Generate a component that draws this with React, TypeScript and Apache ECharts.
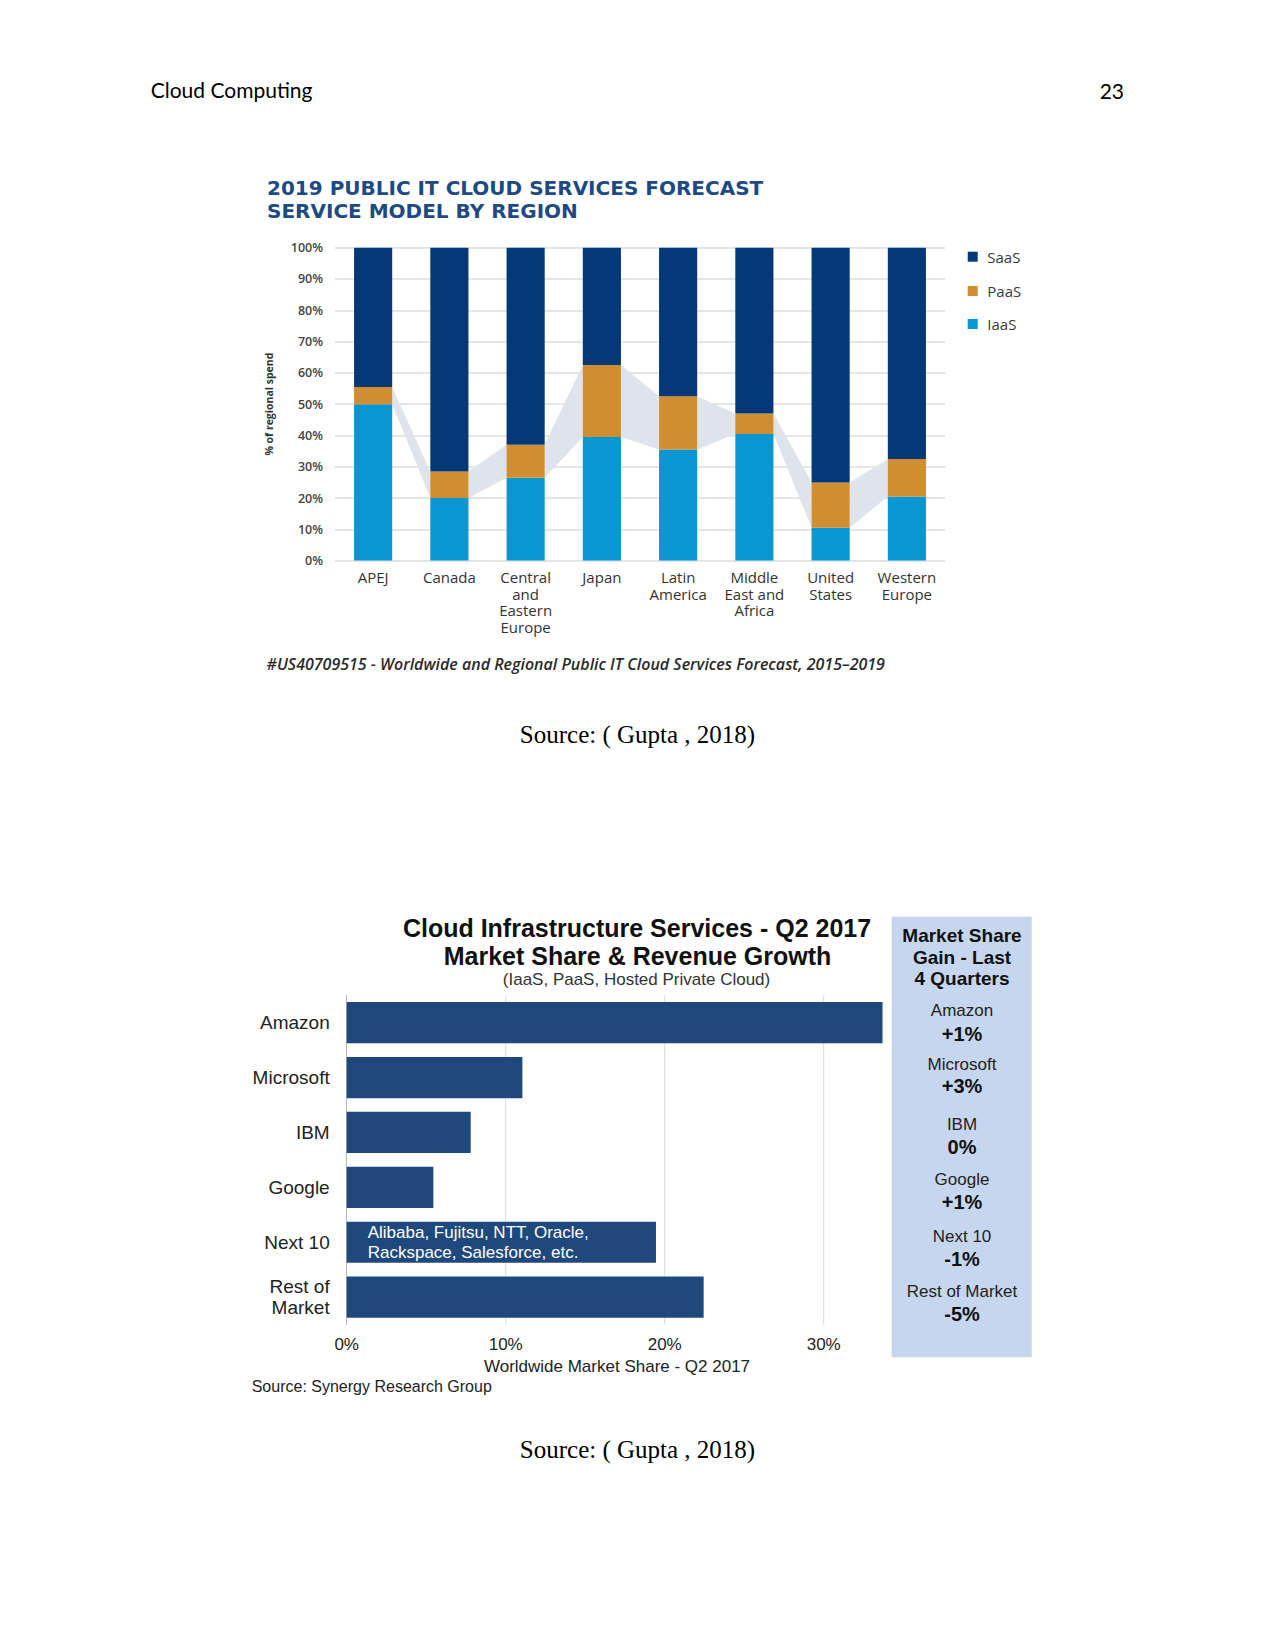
import React, { useEffect, useRef } from "react";
import * as echarts from "echarts";

// ---------- Chart 1 data ----------
const regions = [
  "APEJ",
  "Canada",
  "Central\nand\nEastern\nEurope",
  "Japan",
  "Latin\nAmerica",
  "Middle\nEast and\nAfrica",
  "United\nStates",
  "Western\nEurope",
];
const iaas = [50, 20, 26.5, 39.5, 35.5, 40.5, 10.5, 20.5];
const paas = [5.5, 8.5, 10.5, 23, 17, 6.5, 14.5, 12];
const saas = [44.5, 71.5, 63, 37.5, 47.5, 53, 75, 67.5];
const serviceNames = ["SaaS", "PaaS", "IaaS"];

// ---------- Chart 2 data ----------
const providers = ["Amazon", "Microsoft", "IBM", "Google", "Next 10", "Rest of\nMarket"];
const marketShare = [33.7, 11.05, 7.8, 5.45, 19.45, 22.45];
const shareGridValues = [10, 20, 30];
const next10Note = "Alibaba, Fujitsu, NTT, Oracle,\nRackspace, Salesforce, etc.";
const gainNames = ["Amazon", "Microsoft", "IBM", "Google", "Next 10", "Rest of Market"];
const gainValues = ["+1%", "+3%", "0%", "+1%", "-1%", "-5%"];

const COLORS: Record<string, string> = {
  SaaS: "#043876",
  PaaS: "#cf8e2f",
  IaaS: "#0a96d1",
};

export default function App() {
  const ref = useRef<HTMLDivElement>(null);

  useEffect(() => {
    if (!ref.current) return;
    const chart = echarts.init(ref.current, null, { renderer: "svg" });

    const ribbonData = iaas.slice(0, -1).map((v, i) => [
      i,
      v,
      v + paas[i],
      iaas[i + 1],
      iaas[i + 1] + paas[i + 1],
    ]);

    const panelNameY = [1010.5, 1064.3, 1124.8, 1179.6, 1236, 1291.8];
    const panelValY = [1033.5, 1085.7, 1146.5, 1202, 1258.7, 1314];

    const graphic: any[] = [
      // page header
      { type: "text", x: 150.7, y: 89, style: { text: "Cloud Computing", font: "21px Lato", fill: "#000", textVerticalAlign: "middle" } },
      { type: "text", x: 1124, y: 90, style: { text: "23", font: "21px Lato", fill: "#000", textAlign: "right", textVerticalAlign: "middle" } },
      // chart 1 title
      {
        type: "text",
        x: 267,
        y: 199,
        style: {
          text: "2019 PUBLIC IT CLOUD SERVICES FORECAST\nSERVICE MODEL BY REGION",
          font: "bold 20px 'DejaVu Sans'",
          lineHeight: 23,
          fill: "#1e4a83",
          textVerticalAlign: "middle",
        },
      },
      { type: "text", x: 266.6, y: 664, style: { text: "#US40709515 - Worldwide and Regional Public IT Cloud Services Forecast, 2015\u20132019", font: "italic 600 16px 'Open Sans'", fill: "#2a2a2a", textVerticalAlign: "middle" } },
      { type: "text", x: 637.5, y: 734, style: { text: "Source: ( Gupta , 2018)", font: "25px 'Liberation Serif'", fill: "#000", textAlign: "center", textVerticalAlign: "middle" } },
      // chart 2 titles
      { type: "text", x: 637, y: 928.3, style: { text: "Cloud Infrastructure Services - Q2 2017", font: "bold 25px 'Liberation Sans'", fill: "#111", textAlign: "center", textVerticalAlign: "middle" } },
      { type: "text", x: 637.5, y: 955.5, style: { text: "Market Share & Revenue Growth", font: "bold 25px 'Liberation Sans'", fill: "#111", textAlign: "center", textVerticalAlign: "middle" } },
      { type: "text", x: 636.5, y: 979.6, style: { text: "(IaaS, PaaS, Hosted Private Cloud)", font: "17px 'Liberation Sans'", fill: "#333", textAlign: "center", textVerticalAlign: "middle" } },
      { type: "text", x: 251.7, y: 1386, style: { text: "Source: Synergy Research Group", font: "16px 'Liberation Sans'", fill: "#222", textVerticalAlign: "middle" } },
      // right panel
      { type: "rect", shape: { x: 891.7, y: 916.7, width: 140, height: 440.5 }, style: { fill: "#c6d6ee" }, z: 0 },
      {
        type: "text",
        x: 962,
        y: 957.3,
        style: {
          text: "Market Share\nGain - Last\n4 Quarters",
          font: "bold 19px 'Liberation Sans'",
          lineHeight: 21.7,
          fill: "#111",
          textAlign: "center",
          textVerticalAlign: "middle",
        },
      },
      { type: "text", x: 637.5, y: 1449, style: { text: "Source: ( Gupta , 2018)", font: "25px 'Liberation Serif'", fill: "#000", textAlign: "center", textVerticalAlign: "middle" } },
    ];
    gainNames.forEach((n, i) => {
      graphic.push({ type: "text", x: 962, y: panelNameY[i], style: { text: n, font: "17px 'Liberation Sans'", fill: "#222", textAlign: "center", textVerticalAlign: "middle" } });
      graphic.push({ type: "text", x: 962, y: panelValY[i], style: { text: gainValues[i], font: "bold 20px 'Liberation Sans'", fill: "#111", textAlign: "center", textVerticalAlign: "middle" } });
    });
    // legend chart 1
    const legendY = [256.7, 291, 324];
    serviceNames.forEach((n, i) => {
      graphic.push({ type: "rect", shape: { x: 967.7, y: legendY[i] - 5, width: 10, height: 10 }, style: { fill: COLORS[n] } });
      graphic.push({ type: "text", x: 987.3, y: legendY[i], style: { text: n, font: "15px 'Open Sans'", fill: "#3a3a3a", textVerticalAlign: "middle" } });
    });

    const option: any = {
      animation: false,
      backgroundColor: "#ffffff",
      textStyle: { fontFamily: "Open Sans" },
      grid: [
        { left: 335, top: 247.7, width: 610, height: 312.9 },
        { left: 346.7, top: 995.2, width: 540.6, height: 329.4 },
      ],
      xAxis: [
        {
          type: "category",
          gridIndex: 0,
          data: regions,
          axisLine: { show: false },
          axisTick: { show: false },
          axisLabel: { interval: 0, margin: 8, fontSize: 15, lineHeight: 16.7, color: "#333", fontFamily: "Open Sans" },
        },
        {
          type: "value",
          gridIndex: 1,
          min: 0,
          max: 34,
          interval: 10,
          splitLine: { show: false },
          axisLine: { show: false },
          axisTick: { show: false },
          axisLabel: {
            formatter: (v: number) => (v % 10 === 0 ? v + "%" : ""),
            showMaxLabel: false,
            margin: 11,
            fontSize: 17,
            color: "#222",
            fontFamily: "Liberation Sans",
          },
          name: "Worldwide Market Share - Q2 2017",
          nameLocation: "middle",
          nameGap: 33,
          nameTextStyle: { fontSize: 17, color: "#222", fontFamily: "Liberation Sans" },
        },
      ],
      yAxis: [
        {
          type: "value",
          gridIndex: 0,
          min: 0,
          max: 100,
          interval: 10,
          axisLine: { show: false },
          axisTick: { show: false },
          axisLabel: { formatter: "{value}%", margin: 12, fontSize: 12.5, fontWeight: 600, color: "#444", fontFamily: "Open Sans" },
          splitLine: { lineStyle: { color: "#dcdcdc", width: 1.5 } },
          name: "% of regional spend",
          nameLocation: "middle",
          nameRotate: 90,
          nameGap: 61,
          nameTextStyle: { fontSize: 10.5, fontWeight: 700, color: "#333", fontFamily: "Open Sans" },
        },
        {
          type: "category",
          gridIndex: 1,
          data: providers,
          inverse: true,
          axisLine: { show: true, lineStyle: { color: "#b5b5b5", width: 1 } },
          axisTick: { show: false },
          axisLabel: { margin: 17, fontSize: 19, lineHeight: 21.7, color: "#222", fontFamily: "Liberation Sans" },
        },
      ],
      series: [
        {
          type: "custom",
          xAxisIndex: 0,
          yAxisIndex: 0,
          silent: true,
          z: 1,
          data: ribbonData,
          renderItem: (params: any, api: any) => {
            const i = api.value(0);
            const bw = api.size([1, 0])[0] * 0.5;
            const a = api.coord([i, api.value(2)]);
            const b = api.coord([i, api.value(1)]);
            const c = api.coord([i + 1, api.value(4)]);
            const d = api.coord([i + 1, api.value(3)]);
            return {
              type: "polygon",
              shape: {
                points: [
                  [a[0] + bw / 2, a[1]],
                  [c[0] - bw / 2, c[1]],
                  [d[0] - bw / 2, d[1]],
                  [b[0] + bw / 2, b[1]],
                ],
              },
              style: { fill: "#dfe3ec" },
            };
          },
        },
        { name: "IaaS", type: "bar", xAxisIndex: 0, yAxisIndex: 0, stack: "svc", barWidth: "50%", data: iaas, itemStyle: { color: COLORS.IaaS }, z: 2 },
        { name: "PaaS", type: "bar", xAxisIndex: 0, yAxisIndex: 0, stack: "svc", barWidth: "50%", data: paas, itemStyle: { color: COLORS.PaaS }, z: 2 },
        { name: "SaaS", type: "bar", xAxisIndex: 0, yAxisIndex: 0, stack: "svc", barWidth: "50%", data: saas, itemStyle: { color: COLORS.SaaS }, z: 2 },
        {
          type: "custom",
          xAxisIndex: 1,
          yAxisIndex: 1,
          silent: true,
          z: 1,
          data: shareGridValues.map((v) => [v, 0]),
          renderItem: (params: any, api: any) => {
            const x = api.coord([api.value(0), 0])[0];
            const cs = params.coordSys;
            return {
              type: "line",
              shape: { x1: x, y1: cs.y, x2: x, y2: cs.y + cs.height },
              style: { stroke: "#d9d9d9", lineWidth: 1 },
            };
          },
        },
        {
          type: "bar",
          xAxisIndex: 1,
          yAxisIndex: 1,
          barWidth: "75%",
          z: 2,
          itemStyle: { color: "#1f497d" },
          data: marketShare.map((v, i) =>
            providers[i] === "Next 10"
              ? {
                  value: v,
                  label: {
                    show: true,
                    formatter: next10Note,
                    position: [21, 21],
                    align: "left",
                    verticalAlign: "middle",
                    color: "#ffffff",
                    fontSize: 17,
                    lineHeight: 19.5,
                    fontFamily: "Liberation Sans",
                  },
                }
              : v
          ),
        },
      ],
      graphic,
    };

    chart.setOption(option);
    return () => chart.dispose();
  }, []);

  return (
    <div
      ref={ref}
      style={{ position: "absolute", left: 0, top: 0, width: 1275, height: 1651, background: "#fff" }}
    />
  );
}
